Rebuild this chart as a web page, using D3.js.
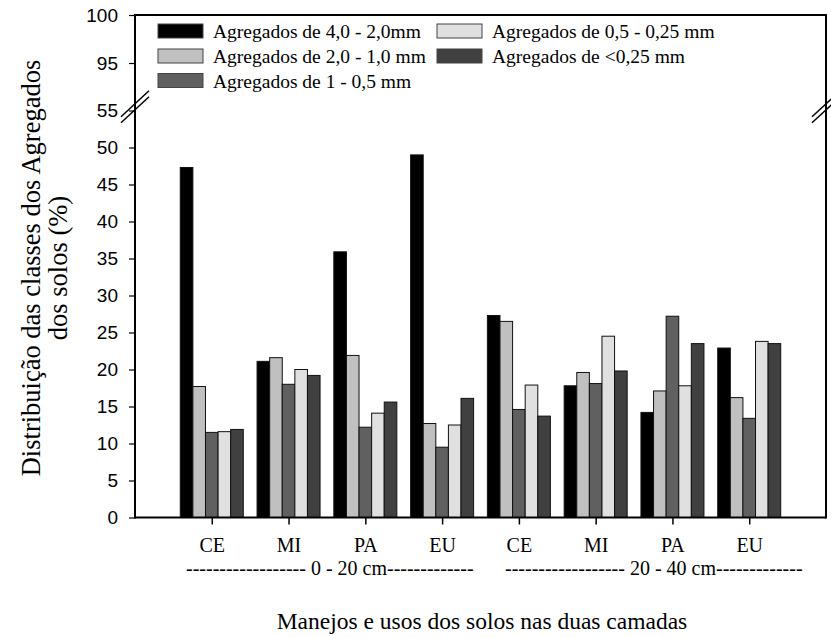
<html>
<head>
    <title>Distribuicao das classes dos agregados</title>
    <script src="https://d3js.org/d3.v7.min.js"></script>
    <style>
        body { margin: 0; background-color: white; }
    </style>
</head>
<body>
    <div id="chart"></div>
    <script>
        // data
        var manejos = ["CE", "MI", "PA", "EU", "CE", "MI", "PA", "EU"];
        var camadas = ["------------------ 0 - 20 cm-------------", "------------------ 20 - 40 cm-------------"];
        var series = ["Agregados de 4,0 - 2,0mm", "Agregados de 2,0 - 1,0 mm", "Agregados de 1 - 0,5 mm",
                      "Agregados de 0,5 - 0,25 mm", "Agregados de <0,25 mm"];
        var agr_4_2 = [47.3, 21.1, 35.9, 49.0, 27.3, 17.8, 14.2, 22.9];
        var agr_2_1 = [17.7, 21.6, 21.9, 12.7, 26.5, 19.6, 17.1, 16.2];
        var agr_1_05 = [11.5, 18.0, 12.2, 9.5, 14.6, 18.1, 27.2, 13.4];
        var agr_05_025 = [11.6, 20.0, 14.1, 12.5, 17.9, 24.5, 17.8, 23.8];
        var agr_025 = [11.9, 19.2, 15.6, 16.1, 13.7, 19.8, 23.5, 23.5];
        var lower_ticks = [0, 5, 10, 15, 20, 25, 30, 35, 40, 45, 50, 55];
        var upper_ticks = [95, 100];

        var values = [agr_4_2, agr_2_1, agr_1_05, agr_05_025, agr_025];
        var colors = ["#000000", "#c0c0c0", "#606060", "#e0e0e0", "#404040"];

        var serif = "Liberation Serif, Times New Roman, serif";
        var sans = "Liberation Sans, Arial, sans-serif";

        var width = 831, height = 637;
        var plot_left = 135, plot_right = 826, plot_top = 15, plot_bottom = 517.5;

        var svg = d3.select("#chart").append("svg")
                    .attr("width", width)
                    .attr("height", height);

        var x = d3.scaleLinear().domain([0, manejos.length + 1]).range([plot_left, plot_right]);
        var inner = d3.scaleBand().domain(d3.range(series.length)).range([-31.5, 31.5]);
        var yLow = d3.scaleLinear().domain([0, 50]).range([plot_bottom, 147.5]);
        var yHigh = d3.scaleLinear().domain([95, 100]).range([63, plot_top]);
        var breakY = yLow(55.5);

        // bars
        values.forEach(function(vals, s){
            svg.append("g").selectAll("rect")
               .data(vals)
               .enter().append("rect")
               .attr("x", function(d, i){ return x(i + 1) + inner(s); })
               .attr("y", function(d){ return yLow(d); })
               .attr("width", inner.bandwidth())
               .attr("height", function(d){ return plot_bottom - yLow(d); })
               .attr("fill", colors[s])
               .attr("stroke", "#111")
               .attr("stroke-width", 1);
        });

        // frame
        var frame = svg.append("g").attr("stroke", "black").attr("stroke-width", 2).attr("fill", "none");
        frame.append("line").attr("x1", plot_left).attr("x2", plot_left).attr("y1", plot_top - 1).attr("y2", plot_bottom + 1);
        frame.append("line").attr("x1", plot_right).attr("x2", plot_right).attr("y1", plot_top - 1).attr("y2", plot_bottom + 1);
        frame.append("line").attr("x1", plot_left).attr("x2", plot_right).attr("y1", plot_top).attr("y2", plot_top);
        frame.append("line").attr("x1", plot_left).attr("x2", plot_right).attr("y1", plot_bottom).attr("y2", plot_bottom);

        // y axes (two segments of a broken axis)
        var axLow = svg.append("g").attr("transform", "translate(" + plot_left + ",0)")
                       .call(d3.axisLeft(yLow).tickValues(lower_ticks).tickFormat(d3.format("d"))
                       .tickSize(6).tickPadding(11));
        var axHigh = svg.append("g").attr("transform", "translate(" + plot_left + ",0)")
                        .call(d3.axisLeft(yHigh).tickValues(upper_ticks).tickFormat(d3.format("d"))
                        .tickSize(6).tickPadding(11));
        [axLow, axHigh].forEach(function(ax){
            ax.select(".domain").remove();
            ax.attr("font-family", sans).attr("font-size", 19);
            ax.selectAll("line").attr("stroke-width", 1.2);
            ax.selectAll("text").attr("fill", "black");
        });

        // x axis ticks and labels
        var xa = svg.append("g").attr("transform", "translate(0," + plot_bottom + ")")
                    .call(d3.axisBottom(x).tickValues(d3.range(1, manejos.length + 1))
                    .tickFormat(function(d){ return manejos[d - 1]; })
                    .tickSize(7).tickPadding(13));
        xa.select(".domain").remove();
        xa.attr("font-family", serif).attr("font-size", 20);
        xa.selectAll("line").attr("stroke-width", 1.5);
        xa.selectAll("text").attr("fill", "black");

        // layer labels
        svg.selectAll(".camada").data(camadas).enter().append("text")
           .attr("class", "camada")
           .attr("font-family", serif)
           .attr("x", function(d, i){ return i == 0 ? 186 : 505; })
           .attr("y", 575)
           .attr("font-size", 20)
           .text(function(d){ return d; });

        // axis break marks
        function draw_break(cx)
        {
            [-3, 3].forEach(function(off){
                svg.append("line")
                   .attr("x1", cx - 14).attr("y1", breakY + off + 13)
                   .attr("x2", cx + 14).attr("y2", breakY + off - 13)
                   .attr("stroke", "black").attr("stroke-width", 1.5);
            });
        }
        draw_break(plot_left);
        draw_break(plot_right);

        // legend
        var legend = svg.append("g");
        var legend_pos = [[158, 31], [158, 56], [158, 80.5], [437, 31], [437, 56]];
        series.forEach(function(name, i){
            var p = legend_pos[i];
            legend.append("rect")
                  .attr("x", p[0]).attr("y", p[1] - 7)
                  .attr("width", 45).attr("height", 14)
                  .attr("fill", colors[i]).attr("stroke", "#444").attr("stroke-width", 1);
            legend.append("text")
                  .attr("font-family", serif)
                  .attr("x", p[0] + 55).attr("y", p[1] + 7)
                  .attr("font-size", 19.5)
                  .text(name);
        });

        // axis titles
        var ytitle = svg.append("text").attr("font-family", serif)
                        .attr("transform", "translate(40,268) rotate(-90)")
                        .attr("text-anchor", "middle").attr("font-size", 26.5);
        ytitle.append("tspan").attr("x", 0).attr("y", 0).text("Distribuição das classes dos Agregados");
        ytitle.append("tspan").attr("x", 0).attr("y", 27).text("dos solos (%)");

        svg.append("text").attr("font-family", serif)
           .attr("x", 482).attr("y", 629)
           .attr("text-anchor", "middle").attr("font-size", 23.5)
           .text("Manejos e usos dos solos nas duas camadas");
    </script>
</body>
</html>
